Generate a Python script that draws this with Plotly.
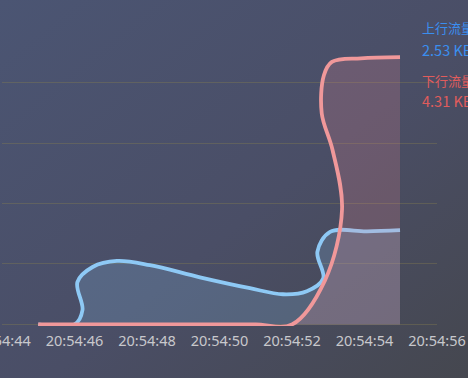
import base64
from datetime import datetime, timedelta
import plotly.graph_objects as go

# ---- data (seconds after 20:54:00, value in grid units) ----
up_seconds = [45.0, 46.0, 46.22, 46.08, 46.5, 47.17, 48.08, 49.46, 50.84, 51.75, 52.41, 52.86, 52.70, 53.05, 54.07, 54.98]
up_values = [0, 0, 0.24, 0.70, 0.95, 1.05, 0.98, 0.78, 0.60, 0.50, 0.55, 0.76, 1.20, 1.53, 1.54, 1.56]
down_seconds = [45.0, 46.0, 47.0, 48.0, 49.0, 50.0, 51.0, 52.0, 52.91, 53.38, 53.12, 52.82, 52.88, 53.1, 53.9, 54.98]
down_values = [0, 0, 0, 0, 0, 0, 0, 0, 0.73, 1.90, 2.88, 3.49, 4.12, 4.34, 4.40, 4.42]
legend_names = ["上行流量", "下行流量"]
legend_values = ["2.53 KB", "4.31 KB"]

base = datetime(2024, 1, 1, 20, 54, 0)
def to_time(secs):
    return [(base + timedelta(seconds=s)).strftime("%Y-%m-%d %H:%M:%S.%f")[:-3] for s in secs]

W, H = 468, 378
ML, MR, MT, MB = 2, 31, 22, 52
PW, PH = W - ML - MR, H - MT - MB
Y0, Y1 = -0.025, 5.0

def px_x(x):
    return (x - ML) / PW

def px_y(y):
    return (H - MB - y) / PH

svg = (
    '<svg xmlns="http://www.w3.org/2000/svg" width="468" height="378">'
    '<defs><linearGradient id="g" x1="0" y1="0" x2="1" y2="1">'
    '<stop offset="0" stop-color="#4b5573"/>'
    '<stop offset="0.55" stop-color="#4a4e66"/>'
    '<stop offset="1" stop-color="#45474f"/>'
    '</linearGradient></defs>'
    '<rect width="468" height="378" fill="url(#g)"/></svg>'
)
bg_src = "data:image/svg+xml;base64," + base64.b64encode(svg.encode()).decode()

fig = go.Figure()
fig.add_trace(go.Scatter(
    x=to_time(up_seconds), y=up_values, mode="lines", name=legend_names[0],
    line=dict(color="#8ec9f5", width=3.8, shape="spline", smoothing=1.0),
    fill="tozeroy", fillcolor="rgba(142,201,245,0.2)",
))
fig.add_trace(go.Scatter(
    x=to_time(down_seconds), y=down_values, mode="lines", name=legend_names[1],
    line=dict(color="#f0989a", width=3.8, shape="spline", smoothing=1.0),
    fill="tozeroy", fillcolor="rgba(240,140,150,0.2)",
))

anns = [
    (legend_names[0], "#3a8ef0", 27, 13),
    (legend_values[0], "#3a8ef0", 50, 14.5),
    (legend_names[1], "#e05c5c", 80, 13),
    (legend_values[1], "#e05c5c", 101, 14.5),
]
for text, color, ypx, fs in anns:
    fig.add_annotation(
        text=text, xref="paper", yref="paper", x=px_x(420), y=px_y(ypx),
        xanchor="left", yanchor="middle", showarrow=False,
        font=dict(color=color, size=fs, family="Noto Sans CJK SC"),
    )

fig.update_layout(
    width=W, height=H,
    margin=dict(l=ML, r=MR, t=MT, b=MB, autoexpand=False),
    paper_bgcolor="#4a4f66",
    plot_bgcolor="rgba(0,0,0,0)",
    showlegend=False,
    images=[dict(
        source=bg_src, xref="paper", yref="paper",
        x=px_x(0), y=px_y(0), sizex=W / PW, sizey=H / PH,
        xanchor="left", yanchor="top", sizing="stretch", layer="below",
    )],
    xaxis=dict(
        type="date", automargin=False,
        range=["2024-01-01 20:54:44", "2024-01-01 20:54:56"],
        dtick=2000, tick0="2024-01-01 20:54:44", tickformat="%H:%M:%S",
        showgrid=False, zeroline=False, showline=False, ticks="",
        tickfont=dict(color="#c8c8cc", size=14.5, family="Noto Sans"),
        ticklabeloverflow="allow", ticklabelstandoff=4,
        fixedrange=True,
    ),
    yaxis=dict(
        range=[Y0, Y1], dtick=1, tick0=0, showticklabels=False, automargin=False,
        showgrid=True, gridcolor="rgba(135,125,80,0.38)", gridwidth=1,
        zeroline=False, showline=False, ticks="",
    ),
)

fig.write_html("out.html")
